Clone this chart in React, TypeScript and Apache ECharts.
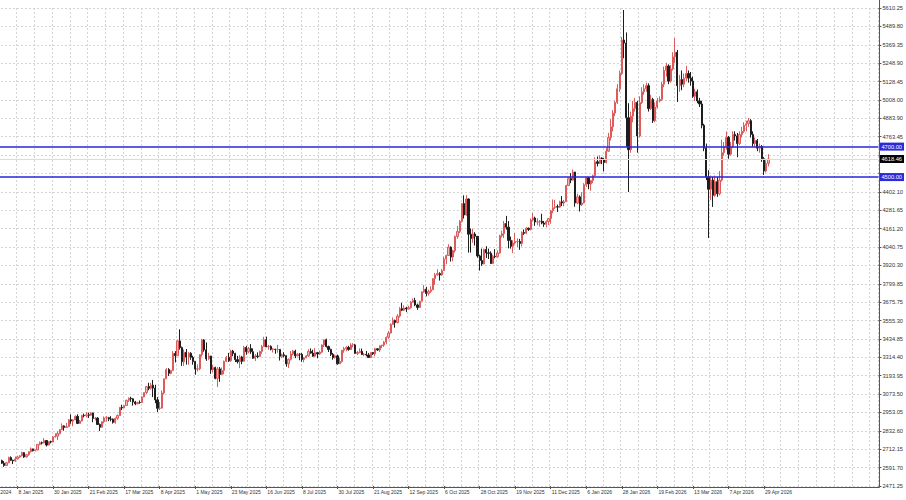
import { useEffect, useRef } from 'react';
import * as echarts from 'echarts';

// OHLC rows: [open, close, low, high]
const dec2024 = [[2638,2621,2616,2644],[2621,2606,2597,2635],[2606,2624,2602,2630]];
const jan2025 = [[2624,2658,2621,2664],[2658,2640,2636,2666],[2640,2636,2615,2644],[2636,2649,2630,2665],[2649,2662,2645,2671],[2662,2670,2656,2675],[2670,2690,2666,2697],[2690,2662,2656,2693],[2662,2677,2659,2683],[2677,2697,2670,2698],[2697,2715,2691,2724],[2715,2703,2698,2716],[2703,2708,2699,2712],[2708,2745,2705,2746],[2745,2755,2738,2764],[2755,2754,2744,2763],[2754,2770,2751,2786],[2770,2740,2731,2771],[2740,2763,2739,2765],[2763,2760,2751,2769],[2760,2794,2758,2799],[2794,2798,2789,2817]];
const feb2025 = [[2798,2815,2772,2830],[2815,2842,2809,2845],[2842,2866,2838,2882],[2866,2856,2834,2870],[2856,2861,2853,2886],[2861,2907,2860,2911],[2907,2898,2880,2942],[2898,2905,2864,2910],[2905,2929,2904,2935],[2929,2882,2878,2942],[2882,2898,2880,2905],[2898,2935,2895,2938],[2935,2933,2922,2947],[2933,2939,2921,2955],[2939,2936,2918,2953],[2936,2951,2932,2956],[2951,2915,2890,2953],[2915,2917,2902,2925],[2917,2875,2872,2923],[2875,2857,2832,2882]];
const mar2025 = [[2857,2893,2856,2895],[2893,2918,2883,2928],[2918,2920,2894,2930],[2920,2911,2897,2925],[2911,2910,2896,2930],[2910,2889,2881,2915],[2889,2916,2880,2921],[2916,2934,2906,2941],[2934,2988,2932,2990],[2988,2984,2970,3005],[2984,3000,2983,3002],[3000,3034,2999,3038],[3034,3048,3023,3053],[3048,3044,3024,3057],[3044,3023,2999,3047],[3023,3011,3002,3030],[3011,3020,3008,3024],[3020,3019,3011,3033],[3019,3056,3016,3060],[3056,3085,3054,3087],[3085,3124,3076,3128]];
const apr2025 = [[3124,3113,3100,3149],[3113,3133,3105,3149],[3133,3114,3055,3168],[3114,3037,3015,3136],[3037,2982,2957,3055],[2982,2983,2970,3023],[2983,3082,2980,3099],[3082,3175,3072,3176],[3175,3237,3175,3245],[3237,3211,3194,3245],[3211,3229,3205,3232],[3229,3342,3228,3357],[3342,3327,3283,3357],[3327,3424,3326,3430],[3424,3380,3367,3500],[3380,3287,3260,3387],[3287,3349,3260,3368],[3349,3318,3268,3371],[3318,3343,3268,3352],[3343,3316,3300,3350],[3316,3288,3268,3327]];
const may2025 = [[3288,3239,3202,3293],[3239,3241,3224,3270],[3241,3334,3232,3336],[3334,3430,3321,3437],[3430,3365,3353,3435],[3365,3306,3293,3414],[3306,3325,3300,3346],[3325,3235,3208,3325],[3235,3249,3218,3265],[3249,3178,3172,3255],[3178,3240,3121,3252],[3240,3204,3155,3253],[3204,3230,3200,3249],[3230,3290,3205,3295],[3290,3315,3285,3325],[3315,3294,3286,3345],[3294,3357,3287,3366],[3357,3342,3324,3365],[3342,3301,3285,3346],[3301,3288,3276,3326],[3288,3318,3245,3330],[3318,3290,3271,3326]];
const jun2025 = [[3290,3381,3289,3392],[3381,3353,3333,3392],[3353,3374,3343,3385],[3374,3353,3339,3403],[3353,3310,3307,3375],[3310,3325,3292,3338],[3325,3322,3310,3349],[3322,3355,3318,3360],[3355,3386,3339,3398],[3386,3432,3384,3451],[3432,3385,3383,3452],[3385,3388,3366,3398],[3388,3369,3362,3395],[3369,3370,3348,3377],[3370,3368,3340,3372],[3368,3368,3347,3398],[3368,3323,3295,3370],[3323,3333,3311,3341],[3333,3327,3316,3350],[3327,3273,3255,3329],[3273,3303,3246,3309]];
const jul2025 = [[3303,3338,3296,3358],[3338,3357,3329,3365],[3357,3326,3311,3366],[3326,3337,3323,3345],[3337,3336,3297,3343],[3336,3302,3287,3345],[3302,3313,3283,3318],[3313,3325,3311,3330],[3325,3355,3320,3369],[3355,3344,3340,3375],[3344,3324,3320,3366],[3324,3347,3319,3377],[3347,3338,3310,3352],[3338,3350,3333,3361],[3350,3397,3345,3401],[3397,3431,3384,3433],[3431,3387,3381,3439],[3387,3368,3351,3393],[3368,3336,3325,3373],[3336,3314,3301,3345],[3314,3326,3308,3334],[3326,3274,3268,3334],[3274,3289,3272,3315]];
const aug2025 = [[3289,3363,3281,3363],[3363,3373,3346,3385],[3373,3381,3357,3390],[3381,3368,3360,3392],[3368,3397,3365,3409],[3397,3398,3382,3409],[3398,3342,3340,3405],[3342,3348,3331,3358],[3348,3356,3343,3375],[3356,3335,3331,3374],[3335,3336,3324,3345],[3336,3332,3323,3358],[3332,3315,3314,3345],[3315,3348,3311,3350],[3348,3339,3332,3351],[3339,3372,3322,3379],[3372,3365,3358,3376],[3365,3393,3351,3394],[3393,3397,3377,3398],[3397,3416,3385,3423],[3416,3448,3402,3453]];
const sep2025 = [[3448,3476,3436,3490],[3476,3533,3472,3540],[3533,3559,3529,3578],[3559,3545,3511,3564],[3545,3587,3540,3600],[3587,3636,3577,3646],[3636,3626,3620,3674],[3626,3640,3620,3658],[3640,3634,3613,3648],[3634,3643,3630,3655],[3643,3679,3635,3686],[3679,3690,3675,3703],[3690,3660,3652,3707],[3660,3644,3628,3669],[3644,3685,3640,3687],[3685,3746,3683,3750],[3746,3763,3740,3791],[3763,3736,3717,3779],[3736,3749,3722,3761],[3749,3760,3740,3783],[3760,3833,3757,3835],[3833,3858,3792,3871]];
const oct2025 = [[3858,3866,3852,3895],[3866,3857,3820,3875],[3857,3886,3852,3897],[3886,3961,3885,3977],[3961,3985,3928,3990],[3985,4040,3983,4059],[4040,3975,3945,4045],[3975,4017,3947,4022],[4017,4110,4004,4116],[4110,4142,4095,4179],[4142,4209,4132,4218],[4209,4326,4201,4330],[4326,4251,4228,4380],[4251,4356,4246,4381],[4356,4125,4004,4360],[4125,4096,4004,4162],[4096,4126,4069,4161],[4126,4111,4050,4138],[4111,3982,3970,4112],[3982,3952,3886,3990],[3952,3930,3917,4030],[3930,4025,3927,4030],[4025,4002,3968,4046]];
const nov2025 = [[4002,4000,3962,4030],[4000,3932,3929,4012],[3932,3980,3930,3990],[3980,3977,3966,4027],[3977,4001,3970,4020],[4001,4115,3997,4122],[4115,4128,4104,4148],[4128,4195,4100,4212],[4195,4171,4155,4245],[4171,4084,4032,4211],[4084,4045,4030,4109],[4045,4067,4000,4085],[4067,4077,4057,4133],[4077,4077,4040,4098],[4077,4064,4022,4094],[4064,4136,4045,4143],[4136,4131,4120,4156],[4131,4164,4125,4171],[4164,4156,4146,4168],[4156,4218,4150,4228]];
const dec2025 = [[4218,4231,4210,4264],[4231,4205,4180,4240],[4205,4206,4184,4230],[4206,4210,4175,4218],[4210,4198,4190,4259],[4198,4190,4173,4212],[4190,4208,4170,4216],[4208,4228,4185,4230],[4228,4279,4193,4284],[4279,4299,4262,4353],[4299,4305,4291,4350],[4305,4303,4271,4320],[4303,4338,4298,4345],[4338,4330,4310,4375],[4330,4338,4308,4350],[4338,4444,4337,4450],[4444,4490,4442,4497],[4490,4480,4460,4526],[4480,4533,4477,4550],[4533,4330,4305,4534],[4330,4370,4322,4390],[4370,4318,4274,4380]];
const jan2026 = [[4318,4330,4310,4402],[4330,4450,4327,4460],[4450,4495,4435,4500],[4495,4455,4420,4500],[4455,4478,4410,4480],[4478,4510,4460,4516],[4510,4600,4505,4630],[4600,4590,4570,4635],[4590,4625,4585,4642],[4625,4615,4585,4630],[4615,4595,4537,4625],[4595,4670,4590,4690],[4670,4760,4665,4790],[4760,4830,4740,4880],[4830,4920,4800,4940],[4920,4990,4900,5000],[4990,5080,4980,5110],[5080,5180,5060,5200],[5180,5400,5170,5420],[5400,5380,5280,5597],[5380,4890,4700,5450]];
const feb2026 = [[4890,4680,4402,4985],[4680,4900,4660,4930],[4900,4950,4860,5000],[4950,4990,4930,5020],[4990,4770,4660,5000],[4770,4990,4760,5030],[4990,5060,4980,5090],[5060,5080,5040,5110],[5080,5100,5060,5120],[5100,4950,4930,5115],[4950,5010,4940,5040],[5010,4870,4855,5020],[4870,4960,4860,4990],[4960,5000,4950,5020],[5000,5010,4990,5030],[5010,5110,5000,5125],[5110,5200,5090,5225],[5200,5230,5160,5250],[5230,5130,5110,5240],[5130,5210,5120,5235]];
const mar2026 = [[5210,5290,5200,5320],[5290,5320,5250,5413],[5320,5100,4993,5335],[5100,5140,5060,5170],[5140,5110,5070,5200],[5110,5150,5090,5180],[5150,5180,5130,5230],[5180,5150,5120,5200],[5150,5130,5100,5190],[5130,5030,5020,5160],[5030,5060,5000,5080],[5060,5000,4985,5075],[5000,4980,4960,5020],[4980,4840,4820,5000],[4840,4690,4670,4850],[4690,4500,4480,4720],[4500,4420,4100,4545],[4420,4480,4350,4510],[4480,4380,4304,4500],[4380,4470,4370,4510],[4470,4390,4370,4500],[4390,4480,4380,4540]];
const apr2026 = [[4480,4660,4470,4745],[4660,4700,4640,4730],[4700,4760,4680,4800],[4760,4650,4620,4770],[4650,4700,4640,4730],[4700,4780,4690,4800],[4780,4770,4740,4800],[4770,4720,4630,4790],[4720,4780,4710,4800],[4780,4800,4760,4830],[4800,4840,4790,4860],[4840,4850,4800,4870],[4850,4870,4830,4888],[4870,4780,4760,4880],[4780,4720,4700,4800],[4720,4740,4700,4760],[4740,4690,4670,4750],[4690,4700,4660,4720],[4700,4620,4600,4710],[4620,4540,4514,4630],[4540,4590,4530,4610]];
const may2026 = [[4590,4618.46,4570,4650]];

const levels = [4700, 4500];
const lastPrice = 4618.46;

// price-scale labels (the two hidden behind the level boxes are left blank)
const priceLabels = ['5610.25','5489.80','5369.35','5248.90','5128.45','5008.00','4883.90','4763.45','4643.00','4522.55','4402.10','4281.65','4161.20','4040.75','3920.30','3799.85','3675.75','3555.30','3434.85','3314.40','3193.95','3073.50','2953.05','2832.60','2712.15','2591.70','2471.25'];
const hiddenPriceLabels = ['4643.00', '4522.55'];

const firstDay = '2024-12-13';
const closedDays = ['2024-12-25','2025-01-01','2025-04-18','2025-12-25','2026-01-01','2026-04-03'];
const LEAD = 9;   // trading days before first visible candle (off-screen to the left)
const PAD = 49;   // empty slots right of last candle
const MONTHS = ['Jan','Feb','Mar','Apr','May','Jun','Jul','Aug','Sep','Oct','Nov','Dec'];

const rows = [...dec2024, ...jan2025, ...feb2025, ...mar2025, ...apr2025, ...may2025, ...jun2025, ...jul2025, ...aug2025, ...sep2025, ...oct2025, ...nov2025, ...dec2025, ...jan2026, ...feb2026, ...mar2026, ...apr2026, ...may2026];

function tradingDays(start: string, count: number): string[] {
  const out: string[] = [];
  const d = new Date(start + 'T00:00:00Z');
  while (out.length < count) {
    const iso = d.toISOString().slice(0, 10);
    const wd = d.getUTCDay();
    if (wd !== 0 && wd !== 6 && !closedDays.includes(iso)) {
      out.push(`${d.getUTCDate()} ${MONTHS[d.getUTCMonth()]} ${d.getUTCFullYear()}`);
    }
    d.setUTCDate(d.getUTCDate() + 1);
  }
  return out;
}

const FONT = 'Liberation Sans, Arial, sans-serif';
const PLOT_RIGHT = 879; // page x of the price-scale line
const CELL = PLOT_RIGHT / (LEAD + 346 + PAD - LEAD);
const OFFSET = LEAD * CELL; // chart canvas starts this far left of the page

function buildOption() {
  const dates = tradingDays(firstDay, LEAD + rows.length);
  const categories = [...dates];
  for (let i = 0; i < PAD; i++) categories.push('\u200b'.repeat(i + 1));
  const nDates = dates.length;

  const data = rows.map((r, i) => [dates[LEAD + i], r[0], r[1], r[2], r[3]]);
  const labelNums = priceLabels.map(Number);
  const showLabel = (i: number) => i < nDates && i % 16 === 0;

  const lvlLabel = (bg: string) => ({
    show: true,
    position: 'end',
    distance: 1,
    formatter: (p: any) => Number(p.value).toFixed(2),
    color: '#ffffff',
    backgroundColor: bg,
    fontSize: 5.7,
    fontFamily: FONT,
    padding: [1, 2, 1, 2],
  });

  const ax = PLOT_RIGHT + OFFSET + 0.5;

  return {
    animation: false,
    backgroundColor: '#ffffff',
    grid: { left: 0, right: 906 - PLOT_RIGHT, top: 8, bottom: 14, containLabel: false },
    xAxis: {
      type: 'category',
      data: categories,
      boundaryGap: true,
      axisLine: { show: false },
      axisTick: { show: true, alignWithLabel: true, interval: (i: number) => showLabel(i), length: 3, lineStyle: { color: '#555' } },
      axisLabel: {
        interval: (i: number) => showLabel(i),
        fontSize: 5,
        fontFamily: FONT,
        color: '#333',
        align: 'left',
        margin: 3,
        padding: [0, 0, 0, 1],
      },
      splitLine: { show: true, interval: (i: number) => i % 8 === 0, lineStyle: { color: '#d4d4d4', type: [2, 2], width: 1 } },
    },
    yAxis: {
      type: 'value',
      position: 'right',
      min: 2471.25,
      max: 5610.25,
      interval: 120.7308,
      scale: true,
      axisLine: { show: false },
      axisTick: { show: true, length: 3, lineStyle: { color: '#555' } },
      axisLabel: {
        fontSize: 5.7,
        fontFamily: FONT,
        color: '#333',
        margin: 4,
        formatter: (v: number) => {
          let best = '';
          let bd = 40;
          labelNums.forEach((n, k) => {
            const dd = Math.abs(n - v);
            if (dd < bd) { bd = dd; best = priceLabels[k]; }
          });
          return hiddenPriceLabels.includes(best) ? '' : best;
        },
      },
      splitLine: { show: true, lineStyle: { color: '#d4d4d4', type: [2, 2], width: 1 } },
    },
    series: [
      {
        type: 'candlestick',
        data,
        encode: { x: 0, y: [1, 2, 3, 4] },
        barWidth: 1.7,
        itemStyle: {
          color: '#f2b4b4',
          color0: '#1e1e1e',
          borderColor: '#dc5c5c',
          borderColor0: '#1e1e1e',
          borderWidth: 1,
        },
        markLine: {
          silent: true,
          symbol: 'none',
          animation: false,
          data: [
            { yAxis: lastPrice, lineStyle: { color: '#dcdccc', width: 1, type: 'solid' }, label: lvlLabel('#000000') },
            ...levels.map((v) => ({ yAxis: v, lineStyle: { color: '#2626e0', width: 1.5, type: 'solid' }, label: lvlLabel('#2a2ad8') })),
          ],
        },
      },
    ],
    graphic: [
      { type: 'line', z: 50, shape: { x1: ax, y1: 0, x2: ax, y2: 487.5 }, style: { stroke: '#555', lineWidth: 1 } },
      { type: 'line', z: 50, shape: { x1: 0, y1: 487.5, x2: ax, y2: 487.5 }, style: { stroke: '#555', lineWidth: 1 } },
    ],
  };
}

export default function App() {
  const ref = useRef<HTMLDivElement>(null);
  useEffect(() => {
    if (!ref.current) return;
    const chart = echarts.init(ref.current, null, { renderer: 'svg' });
    chart.setOption(buildOption() as any);
    return () => chart.dispose();
  }, []);
  return (
    <div style={{ position: 'fixed', left: 0, top: 0, width: 906, height: 500, overflow: 'hidden', background: '#ffffff' }}>
      <div
        ref={ref}
        style={{ position: 'absolute', left: -OFFSET, top: 0, width: 906 + OFFSET, height: 500 }}
      />
    </div>
  );
}
